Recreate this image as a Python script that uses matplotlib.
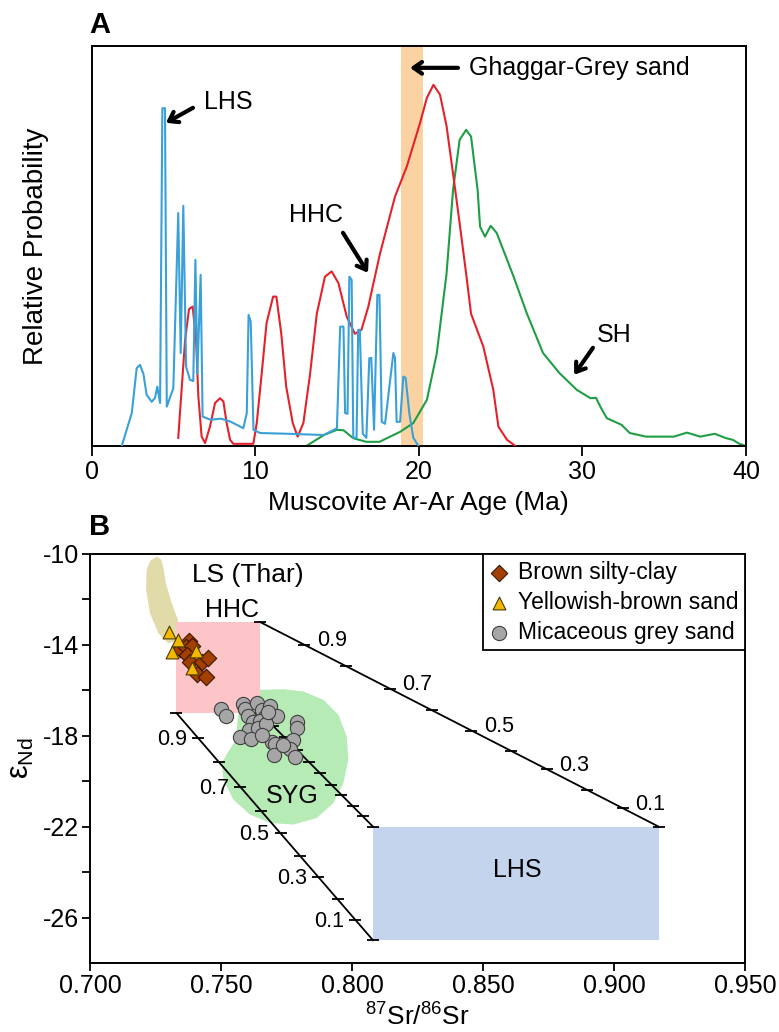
import matplotlib.pyplot as plt
from matplotlib.patches import Polygon, Rectangle

plt.rcParams['font.family'] = ['Liberation Sans', 'DejaVu Sans']
plt.rcParams['mathtext.fontset'] = 'custom'
plt.rcParams['mathtext.rm'] = 'Liberation Sans'
plt.rcParams['mathtext.it'] = 'Liberation Sans:italic'
plt.rcParams['axes.unicode_minus'] = False

# ---- Panel A: muscovite Ar-Ar age probability curves ----
lhs_age = [1.85, 2.46, 2.76, 2.96, 3.17, 3.37, 3.68, 3.88, 4.02, 4.19, 4.33, 4.49,
           4.6, 5.0, 5.3, 5.45, 5.61, 5.78, 6.02, 6.22, 6.35, 6.47, 6.67, 6.79,
           7.28, 7.9, 8.47, 9.28, 9.49, 9.6, 9.73, 9.9, 10.3, 12.1, 14.2, 15.0,
           15.2, 15.4, 15.5, 15.65, 15.76, 15.9, 16.0, 16.2, 16.3, 16.4, 16.58,
           16.8, 16.98, 17.1, 17.27, 17.47, 17.6, 17.74, 17.94, 18.45, 18.55,
           18.65, 18.86, 19.06, 19.2, 19.43, 19.67, 19.98]
lhs_prob = [0.0, 0.082, 0.194, 0.2025, 0.18, 0.1275, 0.11, 0.12, 0.148, 0.107, 0.844, 0.844,
            0.098, 0.144, 0.582, 0.232, 0.60, 0.198, 0.165, 0.162, 0.465, 0.18, 0.4275, 0.073,
            0.065, 0.068, 0.061, 0.044, 0.082, 0.3275, 0.31, 0.04, 0.032, 0.03, 0.027, 0.044,
            0.298, 0.298, 0.082, 0.08, 0.423, 0.415, 0.02, 0.02, 0.29, 0.29, 0.03,
            0.02, 0.219, 0.22, 0.04, 0.3775, 0.3775, 0.06, 0.055, 0.232, 0.22,
            0.06, 0.06, 0.173, 0.17, 0.08, 0.02, 0.0]

hhc_age = [5.3, 5.72, 5.96, 6.18, 6.39, 6.53, 6.73, 6.94, 7.24, 7.55, 7.85, 8.06, 8.26,
           8.47, 8.67, 9.89, 10.1, 10.4, 10.7, 11.1, 11.3, 11.6, 11.9, 12.3, 12.6, 12.95,
           13.36, 13.77, 14.27, 14.68, 15.09, 15.6, 16.1, 16.5, 16.92, 17.63, 18.55, 19.27,
           20.08, 20.5, 20.9, 21.3, 21.7, 22.1, 22.5, 22.9, 23.2, 23.95, 24.56, 24.87,
           25.4, 25.9]
hhc_prob = [0.02, 0.265, 0.342, 0.348, 0.265, 0.123, 0.023, 0.007, 0.048, 0.107, 0.119, 0.111, 0.057,
            0.015, 0.005, 0.005, 0.057, 0.18, 0.307, 0.373, 0.373, 0.28, 0.148, 0.057, 0.023, 0.057,
            0.18, 0.33, 0.423, 0.436, 0.407, 0.323, 0.28, 0.29, 0.348, 0.48, 0.623, 0.698,
            0.807, 0.87, 0.9025, 0.878, 0.80, 0.68, 0.557, 0.43, 0.33, 0.248, 0.14, 0.048,
            0.015, 0.0]

sh_age = [13.15, 14.2, 15.0, 15.4, 16.0, 16.8, 17.6, 18.86, 19.67, 20.5, 21.1, 21.7, 22.1,
          22.5, 22.9, 23.2, 23.6, 23.75, 24.05, 24.4, 24.77, 25.8, 26.6, 27.6, 28.6, 29.66,
          30.5, 30.84, 31.1, 31.5, 32.4, 32.9, 33.9, 35.6, 36.4, 37.2, 38.1, 38.8, 39.2,
          39.6, 40.0]
sh_prob = [0.0, 0.027, 0.04, 0.039, 0.019, 0.01, 0.01, 0.035, 0.057, 0.115, 0.23, 0.43, 0.64,
           0.765, 0.79, 0.773, 0.64, 0.548, 0.523, 0.55, 0.532, 0.423, 0.332, 0.232, 0.182, 0.14,
           0.119, 0.12, 0.098, 0.069, 0.0525, 0.032, 0.023, 0.023, 0.033, 0.023, 0.03, 0.019, 0.015,
           0.005, 0.0]

ghaggar_band = [18.9, 20.25]

# ---- Panel B: Sr-Nd isotopes ----
brown_sr = [0.7378, 0.7344, 0.7366, 0.7389, 0.7370, 0.7382, 0.7428, 0.7450, 0.7408, 0.7443]
brown_eps = [-13.82, -14.18, -14.09, -14.04, -14.44, -14.75, -14.75, -14.57, -15.27, -15.41]

yellow_sr = [0.7302, 0.7336, 0.7313, 0.7403, 0.7390]
yellow_eps = [-13.43, -13.78, -14.33, -14.29, -15.01]

grey_sr = [0.7500, 0.7519, 0.7584, 0.7592, 0.7603, 0.7637, 0.7656, 0.7687, 0.7714, 0.7668,
           0.7622, 0.7649, 0.7607, 0.7641, 0.7573, 0.7615, 0.7672, 0.7790, 0.7790, 0.7695,
           0.7706, 0.7702, 0.7775, 0.7763, 0.7782, 0.7656, 0.7737, 0.7679]
grey_eps = [-16.81, -17.12, -16.59, -16.81, -17.12, -16.55, -16.86, -16.68, -17.12, -17.16,
            -17.38, -17.34, -17.74, -17.65, -18.04, -18.13, -17.47, -17.38, -17.65, -18.26,
            -18.35, -18.84, -18.18, -18.57, -18.92, -17.96, -18.40, -16.95]

hhc_sr = [0.733, 0.765]
hhc_eps = [-17, -13]
lhs_sr = [0.808, 0.917]
lhs_eps = [-27, -22]

ls_sr = [0.7255, 0.7230, 0.7216, 0.7214, 0.7229, 0.7261, 0.7299, 0.7324, 0.7336, 0.7312,
         0.7290, 0.7280, 0.7272]
ls_eps = [-10.12, -10.3, -10.7, -11.58, -12.61, -13.49, -13.93, -13.85, -12.9, -12.17,
          -11.3, -10.6, -10.25]

syg_sr = [0.7649, 0.7738, 0.7814, 0.7891, 0.7948, 0.7980, 0.7986, 0.7967, 0.7929, 0.7865,
          0.7776, 0.7687, 0.7611, 0.7547, 0.7509, 0.7503, 0.7528, 0.7557, 0.7562, 0.7570, 0.7585]
syg_eps = [-15.98, -15.95, -16.05, -16.42, -17.08, -18.03, -19.05, -20.08, -20.96, -21.62,
           -21.91, -21.84, -21.47, -20.81, -19.93, -19.2, -18.69, -18.18, -17.44, -16.71, -16.12]

# mixing fractions of HHC and their position along each mixing line (0 = HHC end)
mix_frac = [0.9, 0.8, 0.7, 0.6, 0.5, 0.4, 0.3, 0.2, 0.1]
mix_pos = [0.11, 0.215, 0.325, 0.43, 0.53, 0.63, 0.72, 0.82, 0.91]
mix_labelled = [0.9, 0.7, 0.5, 0.3, 0.1]

fig = plt.figure(figsize=(7.79, 10.32), dpi=100)
ax1 = fig.add_axes([0.1175, 0.568, 0.840, 0.3876])
ax2 = fig.add_axes([0.1155, 0.0669, 0.841, 0.3963])

# ---------- panel A ----------
ax1.axvspan(ghaggar_band[0], ghaggar_band[1], color='#fbd3a3', lw=0, zorder=0)
ax1.plot(sh_age, sh_prob, color='#1f9e45', lw=1.5, zorder=2)
ax1.plot(hhc_age, hhc_prob, color='#e2232b', lw=1.5, zorder=3)
ax1.plot(lhs_age, lhs_prob, color='#3aa0d8', lw=1.5, zorder=4)

ax1.set_xlim(0, 40)
ax1.set_ylim(0, 1)
ax1.set_yticks([])
ax1.set_xticks([0, 10, 20, 30, 40])
ax1.tick_params(axis='x', direction='out', length=7, width=1.3, labelsize=18, pad=3)
ax1.set_xlabel('Muscovite Ar-Ar Age (Ma)', fontsize=19, labelpad=5)
ax1.set_ylabel('Relative Probability', fontsize=20)
ax1.yaxis.set_label_coords(-0.065, 0.5)
for s in ax1.spines.values():
    s.set_linewidth(1.4)

arrow = dict(arrowstyle='->,head_length=0.6,head_width=0.42', lw=3, color='black',
             shrinkA=0, shrinkB=0)
ax1.annotate('', xy=(4.55, 0.8075), xytext=(6.2, 0.845), arrowprops=arrow)
ax1.text(6.9, 0.86, 'LHS', fontsize=18, ha='left', va='center')
ax1.annotate('', xy=(16.9, 0.4325), xytext=(15.37, 0.5325), arrowprops=arrow)
ax1.text(12.07, 0.578, 'HHC', fontsize=18, ha='left', va='center')
ax1.annotate('', xy=(19.47, 0.945), xytext=(22.4, 0.945), arrowprops=arrow)
ax1.text(23.1, 0.945, 'Ghaggar-Grey sand', fontsize=18, ha='left', va='center')
ax1.annotate('', xy=(29.5, 0.1775), xytext=(30.65, 0.245), arrowprops=arrow)
ax1.text(30.9, 0.2775, 'SH', fontsize=18, ha='left', va='center')

# ---------- panel B ----------
ax2.add_patch(Polygon(list(zip(ls_sr, ls_eps)), closed=True, fc='#e0dba8', ec='none', zorder=1))
ax2.add_patch(Polygon(list(zip(syg_sr, syg_eps)), closed=True, fc='#b6ebb5', ec='none', zorder=1))
ax2.add_patch(Rectangle((hhc_sr[0], hhc_eps[0]), hhc_sr[1] - hhc_sr[0], hhc_eps[1] - hhc_eps[0],
                        fc='#fec5c8', ec='none', zorder=2))
ax2.add_patch(Rectangle((lhs_sr[0], lhs_eps[0]), lhs_sr[1] - lhs_sr[0], lhs_eps[1] - lhs_eps[0],
                        fc='#c4d4ec', ec='none', zorder=1))

mix_lines = [
    ((hhc_sr[1], hhc_eps[1]), (lhs_sr[1], lhs_eps[1]), 'right'),
    ((hhc_sr[0], hhc_eps[0]), (lhs_sr[0], lhs_eps[0]), 'left'),
    ((hhc_sr[1], hhc_eps[0]), (lhs_sr[0], lhs_eps[1]), None),
]
for (x0, y0), (x1, y1), side in mix_lines:
    ax2.plot([x0, x1], [y0, y1], color='black', lw=1.3, zorder=3)
    ax2.plot([x0, x1], [y0, y1], ls='none', marker='_', ms=8, mew=1.3, color='black', zorder=3)
    tx = [x0 + p * (x1 - x0) for p in mix_pos]
    ty = [y0 + p * (y1 - y0) for p in mix_pos]
    ax2.plot(tx, ty, ls='none', marker='_', ms=8, mew=1.3, color='black', zorder=3)
    if side is None:
        continue
    for f, x, y in zip(mix_frac, tx, ty):
        if f not in mix_labelled:
            continue
        if side == 'right':
            ax2.annotate(f'{f:.1f}', (x, y), xytext=(9, 3), textcoords='offset points',
                         fontsize=15.5, ha='left', va='center', zorder=5)
        else:
            ax2.annotate(f'{f:.1f}', (x, y), xytext=(-8, -1), textcoords='offset points',
                         fontsize=15.5, ha='right', va='center', zorder=5)

ax2.scatter(brown_sr, brown_eps, marker='D', s=70, fc='#a33f00', ec='#3a1500', lw=0.8,
            zorder=5, label='Brown silty-clay')
ax2.scatter(yellow_sr, yellow_eps, marker='^', s=85, fc='#f5b800', ec='#4a3a00', lw=0.8,
            zorder=5, label='Yellowish-brown sand')
ax2.scatter(grey_sr, grey_eps, marker='o', s=105, fc='#a6a6a6', ec='#404040', lw=0.8,
            zorder=4, label='Micaceous grey sand')

ax2.text(0.7603, -10.92, 'LS (Thar)', fontsize=19, ha='center', va='center', zorder=5)
ax2.text(0.7542, -12.46, 'HHC', fontsize=18, ha='center', va='center', zorder=5)
ax2.text(0.777, -20.67, 'SYG', fontsize=18, ha='center', va='center', zorder=5)
ax2.text(0.863, -23.9, 'LHS', fontsize=18, ha='center', va='center', zorder=5)

ax2.set_xlim(0.70, 0.95)
ax2.set_ylim(-28, -10)
ax2.set_xticks([0.70, 0.75, 0.80, 0.85, 0.90, 0.95])
ax2.set_xticklabels(['0.700', '0.750', '0.800', '0.850', '0.900', '0.950'])
ax2.set_yticks([-10, -14, -18, -22, -26])
ax2.set_yticks([-12, -16, -20, -24], minor=True)
ax2.tick_params(axis='both', which='both', direction='out', length=6, width=1.3,
                labelsize=18, pad=2)
ax2.set_xlabel(r'$^{87}$Sr/$^{86}$Sr', fontsize=19, labelpad=4)
ax2.set_ylabel(r'$\mathrm{\varepsilon_{Nd}}$', fontsize=22)
ax2.yaxis.set_label_coords(-0.082, 0.5)
for s in ax2.spines.values():
    s.set_linewidth(1.4)

leg = ax2.legend(loc='upper right', fontsize=16.5, frameon=True, fancybox=False,
                 borderaxespad=0, borderpad=0.3, handlelength=0.8, handletextpad=0.4,
                 labelspacing=0.3, scatterpoints=1)
leg.get_frame().set_edgecolor('black')
leg.get_frame().set_linewidth(1.3)
leg.get_frame().set_alpha(1)
leg.set_zorder(6)

fig.text(100 / 779, 1 - 25 / 1032, 'A', fontsize=21, fontweight='bold', ha='center', va='center')
fig.text(100 / 779, 1 - 527 / 1032, 'B', fontsize=21, fontweight='bold', ha='center', va='center')

fig.savefig('out.png', dpi=100)
